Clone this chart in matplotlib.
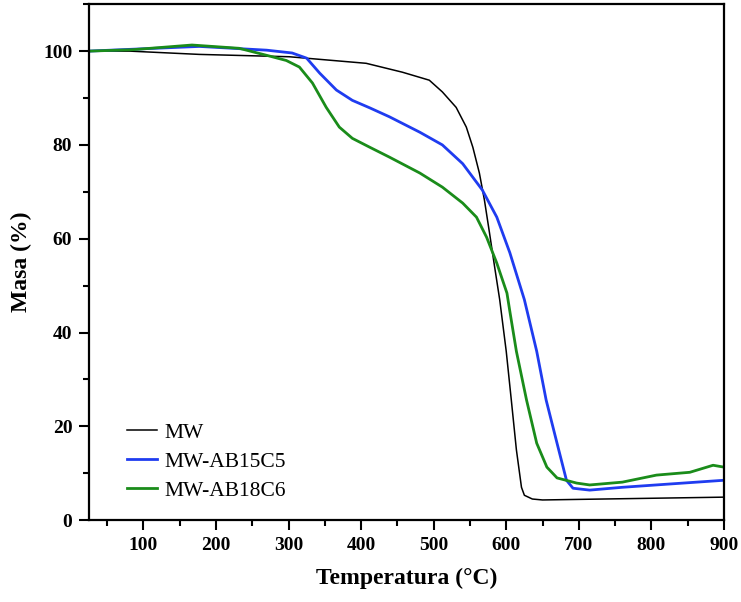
import matplotlib
matplotlib.use("Agg")
import matplotlib.pyplot as plt
from matplotlib.ticker import MultipleLocator

# Data (temperature °C, mass %)
mw_T = [25, 81, 177, 301, 407, 457, 494, 512, 531, 545, 554, 563, 570, 577, 584, 591,
        600, 607, 614, 621, 625, 636, 650, 733, 900]
mw_M = [100, 100, 99.3, 98.8, 97.4, 95.5, 93.8, 91.3, 88, 83.8, 79.5, 74, 68.2, 61.2, 54, 47,
        36, 25.6, 15, 7, 5.3, 4.5, 4.3, 4.5, 4.9]

b15_T = [25, 85, 177, 270, 305, 325, 343, 366, 388, 412, 439, 481, 512, 540, 567, 587, 605,
         625, 642, 655, 670, 683, 692, 715, 760, 825, 900]
b15_M = [100, 100.4, 101, 100.2, 99.6, 98.5, 95.3, 91.7, 89.5, 87.9, 86, 82.7, 80, 76, 70.4,
         64.6, 57, 47, 36, 25.6, 16.4, 8.5, 6.8, 6.4, 7, 7.7, 8.5]

b18_T = [25, 85, 167, 232, 270, 297, 315, 333, 352, 370, 388, 412, 439, 481, 512, 540, 559,
         573, 587, 601, 605, 614, 628, 642, 656, 670, 697, 715, 760, 807, 853, 885, 900]
b18_M = [100, 100.3, 101.3, 100.6, 99.1, 98, 96.6, 93.2, 88, 83.8, 81.4, 79.5, 77.4, 74, 71,
         67.6, 64.6, 60.3, 54.8, 48.4, 44.5, 36, 25.6, 16.4, 11.3, 9, 7.9, 7.5, 8.1, 9.6, 10.2,
         11.7, 11.3]

labels = ["MW", "MW-AB15C5", "MW-AB18C6"]
colors = ["#000000", "#1f3cf0", "#1a8c1a"]

plt.rcParams['font.family'] = ['Liberation Serif', 'DejaVu Serif']

fig = plt.figure(figsize=(7.41, 6.02), dpi=100)
ax = fig.add_axes([0.120, 0.136, 0.857, 0.857])

ax.plot(mw_T, mw_M, color=colors[0], lw=1.1, label=labels[0])
ax.plot(b15_T, b15_M, color=colors[1], lw=2.0, label=labels[1])
ax.plot(b18_T, b18_M, color=colors[2], lw=2.0, label=labels[2])

ax.set_xlim(25, 900)
ax.set_ylim(0, 110)
ax.xaxis.set_minor_locator(MultipleLocator(50))
ax.yaxis.set_minor_locator(MultipleLocator(10))
ax.set_xticks([100, 200, 300, 400, 500, 600, 700, 800, 900])
ax.set_yticks([0, 20, 40, 60, 80, 100])

ax.tick_params(which='major', direction='out', length=7, width=1.5, labelsize=14, pad=5)
ax.tick_params(which='minor', direction='out', length=4, width=1.5)
ax.tick_params(top=False, right=False, which='both')
for lab in ax.get_xticklabels() + ax.get_yticklabels():
    lab.set_fontweight('bold')
for s in ax.spines.values():
    s.set_linewidth(1.6)

ax.set_xlabel("Temperatura (°C)", fontsize=17, fontweight='bold', labelpad=10)
ax.set_ylabel("Masa (%)", fontsize=17, fontweight='bold', labelpad=8)

leg = ax.legend(loc='lower left', bbox_to_anchor=(0.03, 0.0), frameon=False, fontsize=15.5,
                handlelength=1.4, handletextpad=0.3, labelspacing=0.42)

fig.savefig("out.png", dpi=100)
